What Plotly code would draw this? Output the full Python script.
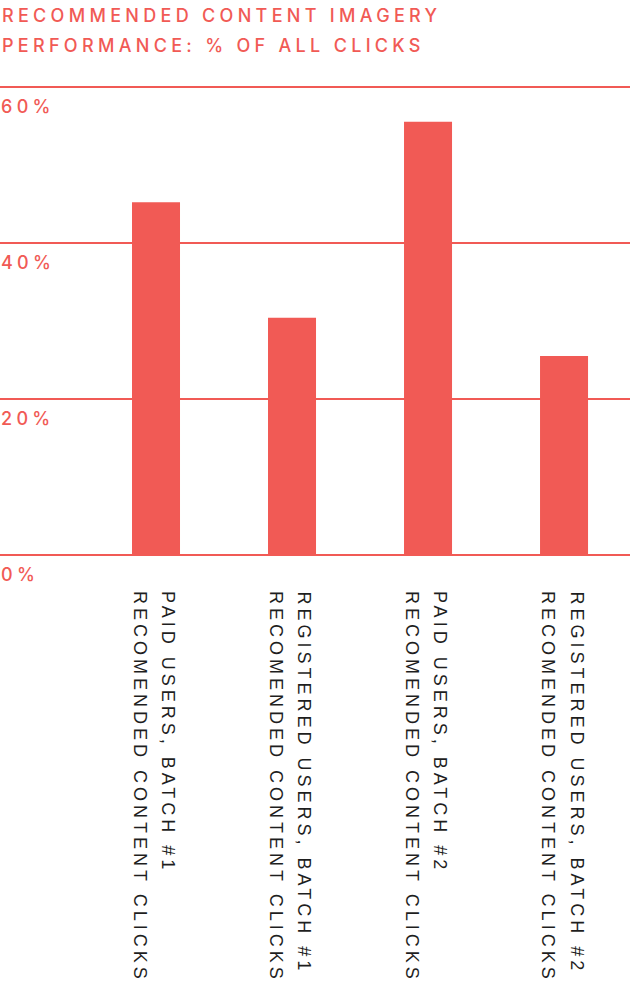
import plotly.graph_objects as go

# chart data
title_lines = ["RECOMMENDED CONTENT IMAGERY", "PERFORMANCE: % OF ALL CLICKS"]
label_top = ["PAID USERS, BATCH #1", "REGISTERED USERS, BATCH #1",
             "PAID USERS, BATCH #2", "REGISTERED USERS, BATCH #2"]
label_bottom = ["RECOMENDED CONTENT CLICKS"] * 4
click_share = [45.2, 30.4, 55.5, 25.5]
y_ticks = [0, 20, 40, 60]
y_tick_text = ["0%", "20%", "40%", "60%"]

CORAL = "#F15A55"
INK = "#1E1E1E"

fig = go.Figure()
fig.add_trace(go.Bar(x=label_top, y=click_share, marker_color=CORAL,
                     marker_line_width=0, width=0.353, hoverinfo="skip"))

# title, two lines
for i, line in enumerate(title_lines):
    fig.add_annotation(text=line, xref="paper", yref="paper", x=0, y=1,
                       xanchor="left", yanchor="middle", align="left",
                       xshift=0, yshift=56 - 30 * i, showarrow=False,
                       font=dict(family="Inter", size=18, weight=500, color=CORAL))

# rotated category labels under the bars
for cat, top, bottom in zip(label_top, label_top, label_bottom):
    for txt, dx in ((top, 12), (bottom, -16)):
        fig.add_annotation(text=txt, x=cat, y=0, xref="x", yref="y",
                           textangle=90, xanchor="center", yanchor="top",
                           align="left", xshift=dx, yshift=-34,
                           showarrow=False,
                           font=dict(family="Liberation Sans", size=18, color=INK))

fig.update_layout(
    width=630, height=990,
    margin=dict(l=0, r=0, t=71, b=396),
    paper_bgcolor="white", plot_bgcolor="white",
    showlegend=False,
    xaxis=dict(range=[-1.147, 3.485], showticklabels=False, showgrid=False,
               zeroline=False, ticks=""),
    yaxis=dict(range=[-5, 62], tickvals=y_ticks, ticktext=y_tick_text,
               ticklabelposition="inside", ticklabelshift=20,
               ticklabelstandoff=-2,
               showgrid=True, gridcolor=CORAL, gridwidth=2,
               zeroline=True, zerolinecolor=CORAL, zerolinewidth=2,
               tickfont=dict(family="Inter", size=18, weight=500, color=CORAL)),
)

# no page margin, and letter spacing for the tracked caps
post = """
document.body.style.margin = '0';
var s = document.createElement('style');
s.innerHTML = 'svg text[style*="Inter"]{letter-spacing:4.3px} svg text[style*="Liberation"]{letter-spacing:4px}';
document.head.appendChild(s);
"""

fig.write_html("out.html", post_script=post, config={"displayModeBar": False})
